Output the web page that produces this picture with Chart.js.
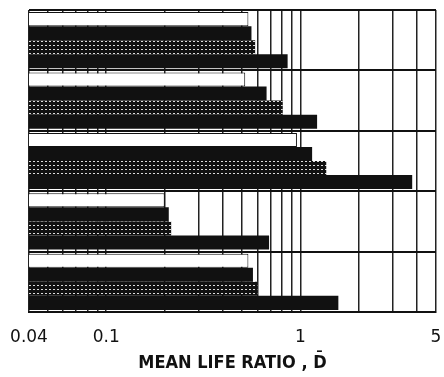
<!DOCTYPE html>
<html>
<head>
<meta charset="utf-8">
<script src="https://cdn.jsdelivr.net/npm/chart.js@4/dist/chart.umd.min.js"></script>
<style>
  body { margin: 0; background: #fff; }
</style>
</head>
<body>
<canvas id="myChart" width="444" height="377"></canvas>
<script>
// five test groups, four bars each
var groups = ["1", "2", "3", "4", "5"];
var whiteBar = [0.54, 0.52, 0.96, 0.2, 0.54];
var blackBar = [0.56, 0.67, 1.15, 0.21, 0.57];
var hatchBar = [0.585, 0.81, 1.36, 0.216, 0.6];
var longBar = [0.86, 1.22, 3.77, 0.69, 1.57];

var tickValues = [0.04, 0.05, 0.06, 0.07, 0.08, 0.09, 0.1, 0.2, 0.3, 0.4, 0.5, 0.6, 0.7, 0.8, 0.9, 1, 2, 3, 4, 5];
var tickLabels = ["0.04", "0.1", "1", "5"];

// black fill with rows of small white dashes, like the scanned shading
function dotPattern() {
  var c = document.createElement("canvas");
  c.width = 4;
  c.height = 4;
  var g = c.getContext("2d");
  g.fillStyle = "#111";
  g.fillRect(0, 0, 4, 4);
  g.fillStyle = "#ddd";
  g.fillRect(1, 1, 2, 1);
  return g.createPattern(c, "repeat");
}

var ctx = document.getElementById("myChart").getContext("2d");
var chart = new Chart(ctx, {
  type: "bar",
  data: {
    labels: groups,
    datasets: [
      {
        data: whiteBar,
        backgroundColor: "#fff",
        borderColor: "#111",
        borderWidth: 1,
      },
      {
        data: blackBar,
        backgroundColor: "#111",
      },
      {
        data: hatchBar,
        backgroundColor: dotPattern(),
      },
      {
        data: longBar,
        backgroundColor: "#111",
      },
    ],
  },
  options: {
    indexAxis: "y",
    responsive: false,
    animation: false,
    layout: { padding: { left: 29, right: 8, top: 10, bottom: 5 } },
    plugins: { legend: { display: false }, tooltip: { enabled: false } },
    datasets: { bar: { categoryPercentage: 0.93, barPercentage: 1 } },
    scales: {
      x: {
        type: "logarithmic",
        min: 0.04,
        max: 5,
        afterBuildTicks: function (scale) {
          scale.ticks = tickValues.map(function (v) {
            return { value: v };
          });
        },
        // end labels may hang over the padding, don't shrink the plot for them
        afterFit: function (scale) {
          scale.paddingLeft = 0;
          scale.paddingRight = 0;
        },
        ticks: {
          autoSkip: false,
          maxRotation: 0,
          padding: 17,
          color: "#111",
          font: { family: "DejaVu Sans", size: 17, lineHeight: 1 },
          callback: function (value) {
            var s = String(value);
            return tickLabels.indexOf(s) >= 0 ? s : "";
          },
        },
        grid: { color: "#222", lineWidth: 1.5, drawTicks: false },
        border: { color: "#111", width: 2 },
        title: {
          display: true,
          text: "MEAN LIFE RATIO , D\u0304",
          color: "#111",
          padding: { top: -9, bottom: 0 },
          font: { family: "DejaVu Sans Condensed", size: 18, weight: "bold", lineHeight: 1 },
        },
      },
      y: {
        grid: { offset: true, color: "#111", lineWidth: 2, drawTicks: false },
        border: { display: false },
        ticks: { display: false },
      },
    },
  },
});
</script>
</body>
</html>
